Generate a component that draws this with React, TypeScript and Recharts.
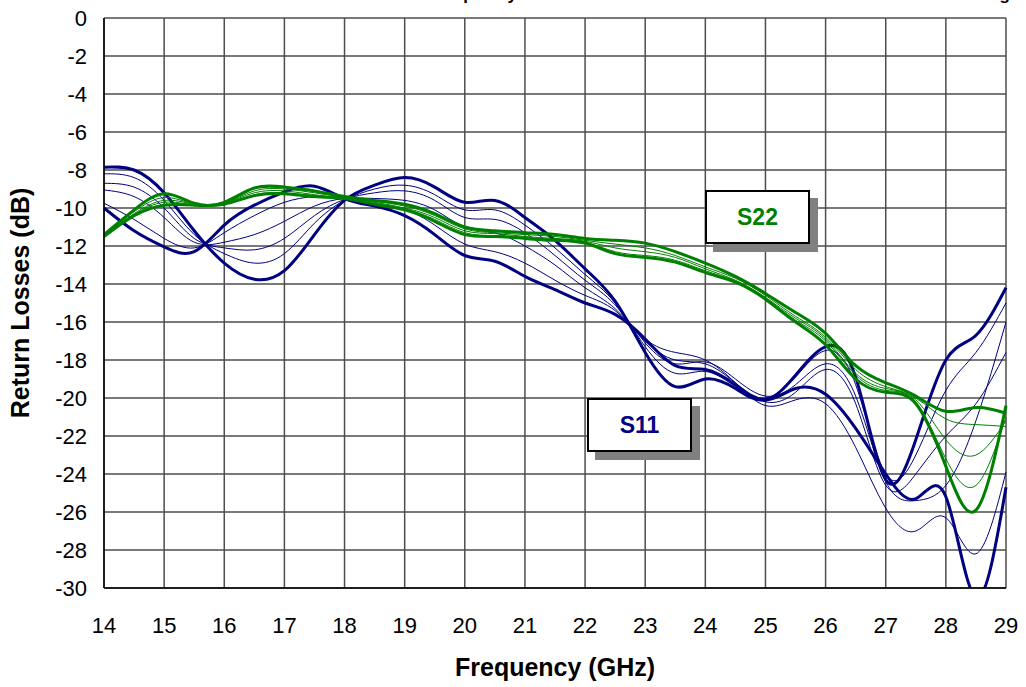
import { LineChart, Line, XAxis, YAxis, CartesianGrid } from "recharts";

const freq = [
  14, 14.5, 15, 15.5, 16, 16.5, 17, 17.5, 18, 18.5, 19, 19.5, 20, 20.5, 21, 21.5,
  22, 22.5, 23, 23.5, 24, 24.5, 25, 25.5, 26, 26.5, 27, 27.5, 28, 28.5, 29,
];

// S11 (blue) - two thick bundles plus thin traces in between
const s11A = [
  -7.85, -8.0, -9.2, -11.2, -12.9, -13.75, -13.3, -11.4, -9.6, -8.8, -8.4, -8.9,
  -9.7, -9.6, -10.5, -11.7, -13.2, -14.9, -17.6, -19.4, -19.0, -19.5, -20.1,
  -18.8, -17.3, -18.9, -24.3, -22.2, -18.0, -16.7, -14.2,
];
const s11B = [
  -10.0, -11.2, -12.05, -12.3, -10.9, -9.85, -9.15, -8.85, -9.5, -9.9, -10.4,
  -11.4, -12.5, -12.8, -13.6, -14.3, -15.0, -15.6, -16.9, -18.3, -18.5, -19.3,
  -20.1, -19.5, -19.8, -21.6, -24.0, -25.3, -25.2, -30.5, -24.7,
];
const s11T1 = [
  -8.2, -8.4, -9.6, -11.4, -12.4, -12.9, -12.4, -10.8, -9.6, -9.0, -8.8, -9.3,
  -10.1, -10.1, -10.9, -12.1, -13.5, -15.0, -17.3, -18.7, -18.6, -19.4, -20.0,
  -18.9, -17.5, -19.3, -24.0, -23.0, -19.6, -17.6, -15.0,
];
const s11T2 = [
  -8.7, -8.9, -10.0, -11.6, -12.1, -12.2, -11.6, -10.4, -9.55, -9.2, -9.1, -9.6,
  -10.5, -10.6, -11.3, -12.5, -13.8, -15.1, -17.1, -18.2, -18.1, -19.0, -19.9,
  -19.3, -18.2, -19.9, -24.4, -25.4, -24.6, -21.2, -16.0,
];
const s11T3 = [
  -9.05, -9.4, -10.5, -11.8, -11.8, -11.4, -10.7, -9.9, -9.5, -9.5, -9.6, -10.1,
  -11.0, -11.3, -12.0, -13.0, -14.2, -15.3, -17.0, -18.0, -18.2, -19.2, -20.2,
  -19.7, -18.5, -20.3, -24.6, -24.0, -22.0, -20.3, -17.6,
];
const s11T4 = [
  -9.75, -10.6, -11.6, -12.1, -11.3, -10.4, -9.7, -9.4, -9.5, -9.9, -10.1, -10.9,
  -11.9, -12.3, -12.9, -13.8, -14.6, -15.4, -16.9, -17.6, -18.0, -19.2, -20.4,
  -20.1, -20.3, -22.6, -25.8, -27.0, -26.3, -28.2, -23.9,
];

// S22 (green)
const s22A = [
  -11.4, -10.1, -9.25, -9.75, -9.7, -8.95, -8.9, -9.1, -9.4, -9.6, -9.8, -10.3,
  -11.0, -11.2, -11.3, -11.4, -11.6, -11.7, -11.85, -12.3, -12.9, -13.6, -14.5,
  -15.5, -16.6, -18.3, -19.2, -19.9, -20.7, -20.5, -20.8,
];
const s22B = [
  -11.5, -10.4, -9.85, -9.85, -9.8, -9.35, -9.25, -9.4, -9.5, -9.8, -10.1, -10.7,
  -11.4, -11.5, -11.6, -11.7, -11.85, -12.4, -12.6, -12.85, -13.4, -13.9, -14.8,
  -16.0, -17.2, -19.0, -19.7, -20.3, -23.6, -25.9, -20.4,
];
const s22T1 = [
  -11.4, -10.2, -9.45, -9.8, -9.75, -9.1, -9.0, -9.2, -9.45, -9.65, -9.9, -10.4,
  -11.1, -11.3, -11.4, -11.5, -11.7, -11.9, -12.1, -12.5, -13.1, -13.7, -14.6,
  -15.7, -16.8, -18.5, -19.4, -20.0, -21.1, -21.4, -21.5,
];
const s22T2 = [
  -11.45, -10.3, -9.6, -9.8, -9.75, -9.2, -9.1, -9.3, -9.5, -9.7, -10.0, -10.5,
  -11.2, -11.35, -11.5, -11.6, -11.75, -12.1, -12.3, -12.6, -13.2, -13.8, -14.7,
  -15.8, -16.9, -18.7, -19.5, -20.1, -22.2, -23.0, -21.2,
];
const s22T3 = [
  -11.5, -10.35, -9.7, -9.85, -9.8, -9.3, -9.2, -9.35, -9.5, -9.75, -10.05,
  -10.6, -11.3, -11.45, -11.55, -11.65, -11.8, -12.3, -12.5, -12.75, -13.3,
  -13.85, -14.75, -15.9, -17.0, -18.8, -19.6, -20.2, -23.2, -24.6, -21.0,
];

const xTicks = [14, 15, 16, 17, 18, 19, 20, 21, 22, 23, 24, 25, 26, 27, 28, 29];
const yTicks = [0, -2, -4, -6, -8, -10, -12, -14, -16, -18, -20, -22, -24, -26, -28, -30];

const data = freq.map((f, i) => ({
  f,
  s11A: s11A[i],
  s11B: s11B[i],
  s11T1: s11T1[i],
  s11T2: s11T2[i],
  s11T3: s11T3[i],
  s11T4: s11T4[i],
  s22A: s22A[i],
  s22B: s22B[i],
  s22T1: s22T1[i],
  s22T2: s22T2[i],
  s22T3: s22T3[i],
}));

const BLUE = "#000080";
const GREEN = "#008000";
const FONT = '"Liberation Sans", Arial, sans-serif';

const blueLines = [
  { key: "s11T1", w: 1 },
  { key: "s11T2", w: 1 },
  { key: "s11T3", w: 1 },
  { key: "s11T4", w: 1 },
  { key: "s11A", w: 3 },
  { key: "s11B", w: 3 },
];
const greenLines = [
  { key: "s22T1", w: 1 },
  { key: "s22T2", w: 1 },
  { key: "s22T3", w: 1 },
  { key: "s22A", w: 3 },
  { key: "s22B", w: 3 },
];

const boxStyle = (left: number, top: number, color: string) => ({
  position: "absolute" as const,
  left,
  top,
  width: 101,
  height: 50,
  border: "2px solid #000",
  background: "#fff",
  boxShadow: "8px 8px 0 #808080",
  color,
  font: `bold 23px ${FONT}`,
  display: "flex",
  alignItems: "center",
  justifyContent: "center",
});

export default function App() {
  return (
    <div
      style={{
        position: "absolute",
        left: 0,
        top: 0,
        width: 1026,
        height: 687,
        overflow: "hidden",
        background: "#fff",
      }}
    >
      <LineChart
        width={1026}
        height={687}
        data={data}
        margin={{ top: 18, right: 20, bottom: 0, left: 0 }}
      >
        <CartesianGrid stroke="#4d4d4d" strokeWidth={1.5} />
        <XAxis
          dataKey="f"
          type="number"
          domain={[14, 29]}
          ticks={xTicks}
          height={99}
          tickSize={0}
          tickMargin={29}
          axisLine={{ stroke: "#000", strokeWidth: 1.5 }}
          tick={{ fill: "#000", fontSize: 22, fontFamily: FONT }}
          label={{
            value: "Frequency (GHz)",
            position: "insideBottom",
            offset: 11,
            style: { fill: "#000", fontSize: 25, fontWeight: "bold", fontFamily: FONT },
          }}
        />
        <YAxis
          type="number"
          domain={[-30, 0]}
          allowDataOverflow
          ticks={yTicks}
          width={104}
          tickSize={0}
          tickMargin={17}
          axisLine={{ stroke: "#000", strokeWidth: 1.5 }}
          tick={{ fill: "#000", fontSize: 22, fontFamily: FONT }}
          label={{
            value: "Return Losses (dB)",
            angle: -90,
            position: "insideLeft",
            offset: 20,
            style: {
              fill: "#000",
              fontSize: 25,
              fontWeight: "bold",
              fontFamily: FONT,
              textAnchor: "middle",
            },
          }}
        />
        {blueLines.map((l) => (
          <Line
            key={l.key}
            dataKey={l.key}
            type="natural"
            stroke={BLUE}
            strokeWidth={l.w}
            dot={false}
            isAnimationActive={false}
          />
        ))}
        {greenLines.map((l) => (
          <Line
            key={l.key}
            dataKey={l.key}
            type="natural"
            stroke={GREEN}
            strokeWidth={l.w}
            dot={false}
            isAnimationActive={false}
          />
        ))}
      </LineChart>

      {/* title sits mostly above the visible page, only descenders show */}
      <div
        style={{
          position: "absolute",
          right: 509,
          top: -15,
          lineHeight: "20px",
          whiteSpace: "nowrap",
          font: `bold 17px ${FONT}`,
        }}
      >
        S11 and S22 Return Losses vs Frequency
      </div>
      <div
        style={{
          position: "absolute",
          right: 16,
          top: -15,
          lineHeight: "20px",
          whiteSpace: "nowrap",
          font: `bold 17px ${FONT}`,
        }}
      >
        over All Attenuation States and Bias Setting
      </div>

      <div style={boxStyle(705, 190, GREEN)}>S22</div>
      <div style={boxStyle(587, 398, BLUE)}>S11</div>
    </div>
  );
}
